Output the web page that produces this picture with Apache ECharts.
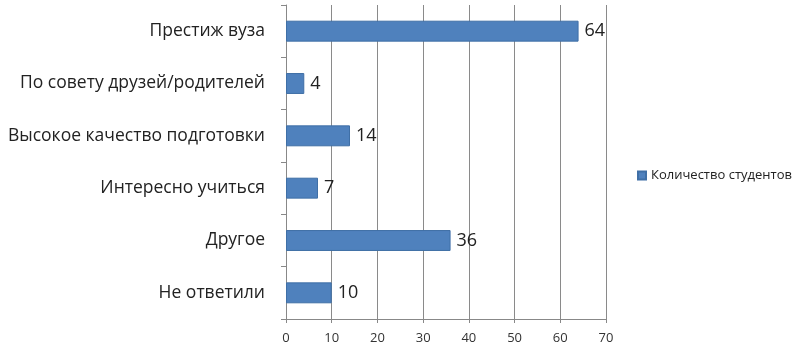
<!DOCTYPE html>
<html><head><meta charset="utf-8">
<script src="https://cdn.jsdelivr.net/npm/echarts@6/dist/echarts.min.js"></script>
<style>html,body{margin:0;padding:0;background:#fff}#c{width:792px;height:347px}</style>
</head><body><div id="c"></div>
<script>
var categories = ["Престиж вуза","По совету друзей/родителей","Высокое качество подготовки","Интересно учиться","Другое","Не ответили"];
var values = [64,4,14,7,36,10];
var seriesName = "Количество студентов";
var xTicks = [0,10,20,30,40,50,60,70];

var chart = echarts.init(document.getElementById('c'));
chart.setOption({
  animation:false,
  grid:{left:286,right:186,top:5,bottom:28,containLabel:false,outerBoundsMode:'none'},
  legend:{
    data:[seriesName], orient:'vertical', left:632, top:164,
    itemWidth:8,itemHeight:8,itemGap:4,icon:'rect',
    textStyle:{fontFamily:'Open Sans, Noto Sans, sans-serif',fontSize:13,color:'#222'}
  },
  xAxis:{
    type:'value', min:xTicks[0], max:xTicks[xTicks.length-1], interval:10,
    axisLine:{show:true,lineStyle:{color:'#888'}},
    axisTick:{show:true,length:4,lineStyle:{color:'#888'}},
    splitLine:{show:true,lineStyle:{color:'#8a8a8a',width:1}},
    axisLabel:{fontFamily:'Open Sans, Noto Sans, sans-serif',fontSize:13,color:'#333',margin:13}
  },
  yAxis:{
    type:'category', data:categories, inverse:true,
    axisLine:{show:true,lineStyle:{color:'#888'}},
    axisTick:{show:true,length:5,alignWithLabel:false,lineStyle:{color:'#888'}},
    axisLabel:{fontFamily:'Open Sans, Noto Sans, sans-serif',fontSize:17.5,color:'#222',margin:21}
  },
  series:[{
    name:seriesName, type:'bar', data:values, barCategoryGap:'60%',
    itemStyle:{color:'#4F81BD',borderColor:'#3f6fa6',borderWidth:1},
    label:{show:true,position:'right',distance:6,
      fontFamily:'Open Sans, Noto Sans, sans-serif',fontSize:18,color:'#222'}
  }]
});
</script></body></html>
